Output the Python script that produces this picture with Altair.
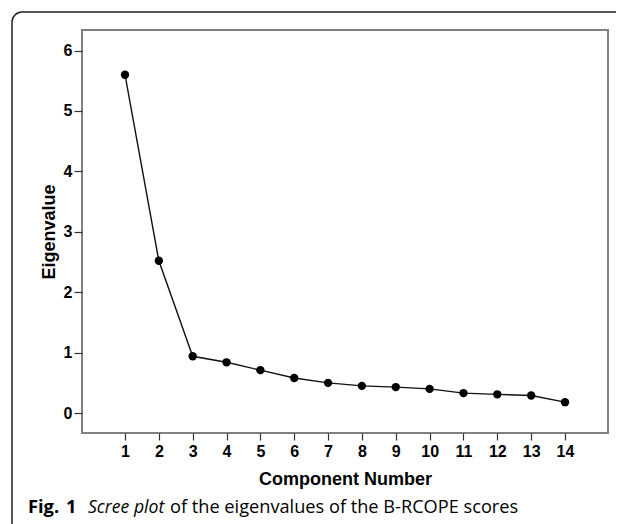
import altair as alt
import pandas as pd

components = list(range(1, 15))
eigenvalues = [5.60, 2.52, 0.94, 0.84, 0.71, 0.58, 0.50, 0.45, 0.43, 0.40, 0.33, 0.31, 0.29, 0.18]
x_ticks = list(range(1, 15))
y_ticks = [0, 1, 2, 3, 4, 5, 6]

df = pd.DataFrame({"Component": components, "Eigenvalue": eigenvalues})

W, H = 526, 403
tick_font = "'Liberation Sans Narrow', 'Liberation Sans', Arial, sans-serif"

x_enc = alt.X(
    "Component:Q",
    scale=alt.Scale(domain=[-0.27, 15.27], nice=False, zero=False),
    axis=alt.Axis(
        values=x_ticks, title="Component Number", grid=False, domain=False,
        tickSize=7, tickColor="#333333", tickWidth=1.2,
        labelFont=tick_font, labelFontWeight="bold", labelFontSize=16,
        labelColor="#000000", labelPadding=3,
        titleFont="Liberation Sans", titleFontWeight="bold", titleFontSize=18,
        titleColor="#000000", titleBaseline="alphabetic", titleY=51,
    ),
)
y_enc = alt.Y(
    "Eigenvalue:Q",
    scale=alt.Scale(domain=[-0.33, 6.34], nice=False, zero=False),
    axis=alt.Axis(
        values=y_ticks, title="Eigenvalue", grid=False, domain=False,
        tickSize=8, tickColor="#333333", tickWidth=1.2,
        labelFont=tick_font, labelFontWeight="bold", labelFontSize=16,
        labelColor="#000000", labelPadding=2,
        titleFont="Liberation Sans", titleFontWeight="bold", titleFontSize=18,
        titleColor="#000000", titleBaseline="alphabetic", titleX=-28,
    ),
)

base = alt.Chart(df)
line = base.mark_line(color="#111111", strokeWidth=1.4).encode(x=x_enc, y=y_enc)
pts = base.mark_circle(color="#000000", opacity=1, size=70).encode(x=x_enc, y=y_enc)

one = alt.Data(values=[{"a": 1}])

card = alt.Chart(one).mark_rect(
    fill=None, filled=False, stroke="#222222", strokeWidth=1.5, cornerRadius=10
).encode(
    x=alt.value(-70), x2=alt.value(W + 60),
    y=alt.value(-18), y2=alt.value(H + 120),
)

cap_font = "Open Sans"
cap_y = 483
cap_size = 18.3
fig = alt.Chart(one).mark_text(
    text="Fig.", font=cap_font, fontWeight="bold", fontSize=cap_size,
    align="left", baseline="alphabetic", color="#000000",
).encode(x=alt.value(-54), y=alt.value(cap_y))
fig_num = alt.Chart(one).mark_text(
    text="1", font=cap_font, fontWeight="bold", fontSize=cap_size,
    align="left", baseline="alphabetic", color="#000000",
).encode(x=alt.value(-16), y=alt.value(cap_y))
scree = alt.Chart(one).mark_text(
    text="Scree plot", font=cap_font, fontStyle="italic", fontSize=17.6,
    align="left", baseline="alphabetic", color="#000000",
).encode(x=alt.value(6), y=alt.value(cap_y))
rest = alt.Chart(one).mark_text(
    text="of the eigenvalues of the B-RCOPE scores", font=cap_font, fontSize=18.2,
    align="left", baseline="alphabetic", color="#000000",
).encode(x=alt.value(88), y=alt.value(cap_y))

chart = alt.layer(card, line, pts, fig, fig_num, scree, rest).properties(
    width=W, height=H,
    autosize=alt.AutoSizeParams(type="none"),
    padding={"left": 74, "top": 22, "right": 8, "bottom": 91},
    background="#ffffff",
).configure_view(stroke="#808080", strokeWidth=2)

chart.save("out.html", embed_options={"renderer": "svg", "actions": False})
